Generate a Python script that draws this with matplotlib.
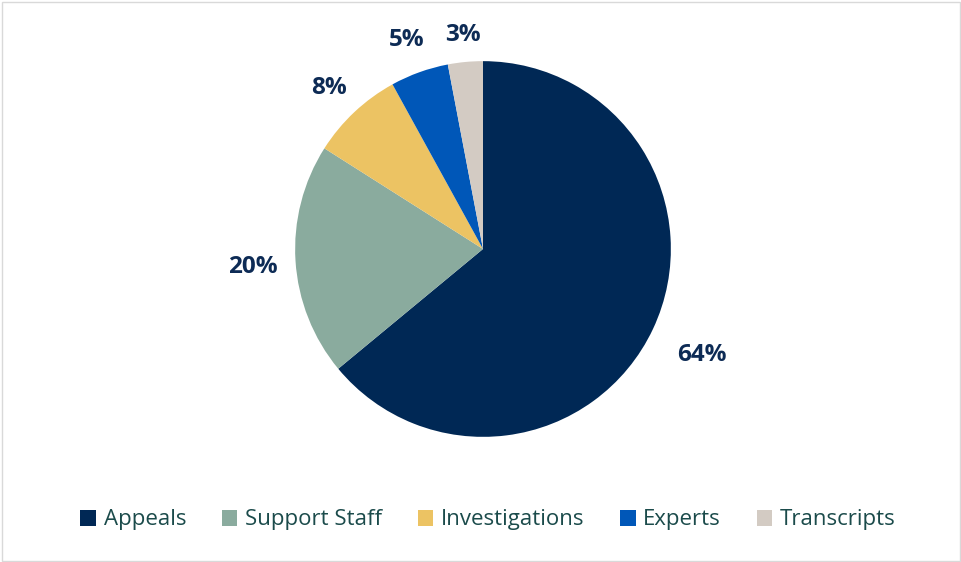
import numpy as np
import matplotlib
matplotlib.use("Agg")
import matplotlib.pyplot as plt
from matplotlib.patches import Rectangle, Patch

plt.rcParams["font.family"] = ["Open Sans", "DejaVu Sans"]

# 费用构成（百分比）
categories = ["Appeals", "Support Staff", "Investigations", "Experts", "Transcripts"]
shares = [64, 20, 8, 5, 3]
colors = ["#002855", "#8aab9e", "#ecc363", "#0057b8", "#d3cbc3"]
# 各标签离圆心的距离（半径倍数）
label_dist = [1.29, 1.23, 1.2, 1.2, 1.16]

LABEL_COLOR = "#0d2b55"
LEGEND_COLOR = "#1b4b4b"

fig = plt.figure(figsize=(9.62, 5.62), dpi=100)
ax = fig.add_axes([220 / 962, 50 / 562, 526 / 962, 526 / 562])

wedges, _ = ax.pie(
    shares,
    colors=colors,
    startangle=90,
    counterclock=False,
    radius=1.0,
)

for w, v, d in zip(wedges, shares, label_dist):
    ang = np.deg2rad((w.theta1 + w.theta2) / 2)
    ax.text(d * np.cos(ang), d * np.sin(ang), f"{v}%",
            ha="center", va="center_baseline", color=LABEL_COLOR,
            fontsize=17.5, fontweight="bold")

ax.set_xlim(-1.4, 1.4)
ax.set_ylim(-1.4, 1.4)
ax.set_aspect("equal")
ax.axis("off")

handles = [Patch(facecolor=c, edgecolor="none") for c in colors]
fig.legend(
    handles, categories,
    loc="center", bbox_to_anchor=(488 / 962, 1 - 520 / 562),
    ncol=5, frameon=False, fontsize=16,
    handlelength=0.7, handleheight=0.7, handletextpad=0.35, columnspacing=1.6,
    labelcolor=LEGEND_COLOR,
)

# 外边框
fig.patches.append(Rectangle((0.002, 0.002), 0.996, 0.994, transform=fig.transFigure,
                             fill=False, edgecolor="#d9d9d9", linewidth=1))

fig.savefig("out.png", dpi=100)
